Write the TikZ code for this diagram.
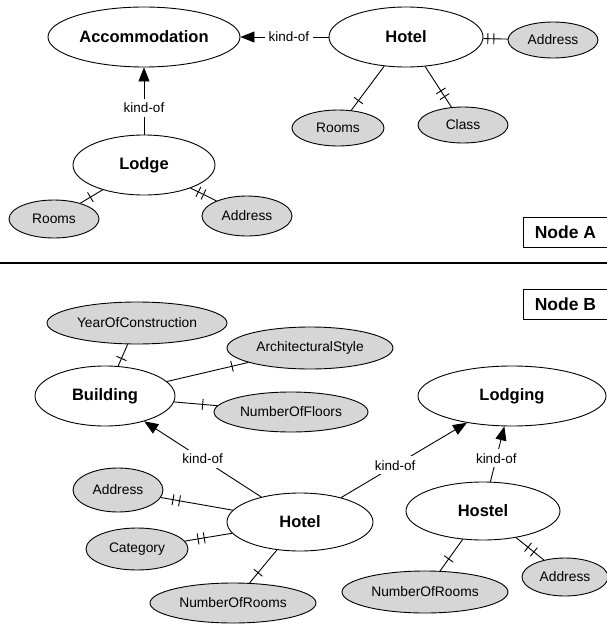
\documentclass[tikz,border=0pt]{standalone}
\usepackage{fontspec}
\setmainfont{Liberation Sans}
\usetikzlibrary{shapes.geometric,arrows.meta,decorations.markings}
\definecolor{attrgray}{RGB}{214,214,214}
\tikzset{
  ent/.style={draw, ellipse, fill=white, inner sep=0pt, line width=0.9pt,
    font=\fontsize{16.5}{18}\selectfont\bfseries},
  attr/.style={draw, ellipse, fill=attrgray, inner sep=0pt, line width=0.9pt,
    font=\fontsize{13.8}{16}\selectfont},
  link/.style={line width=0.9pt},
  kindarrow/.style={line width=0.9pt, -{Triangle[length=14pt,width=11pt]}},
  kindlabel/.style={fill=white, inner sep=4pt, font=\fontsize{13.5}{15}\selectfont},
  tickone/.style={postaction={decorate,decoration={markings,
    mark=at position #1 with {\draw[line width=0.9pt] (0,-5.5) -- (0,5.5);}}}},
  ticktwo/.style 2 args={postaction={decorate,decoration={markings,
    mark=at position #1 with {\draw[line width=0.9pt] (0,-5.5) -- (0,5.5);},
    mark=at position #2 with {\draw[line width=0.9pt] (0,-5.5) -- (0,5.5);}}}},
  tagbox/.style={draw, line width=0.9pt, minimum width=86pt, minimum height=30pt,
    inner sep=0pt, font=\fontsize{17.5}{19}\selectfont\bfseries}
}
\begin{document}
\begin{tikzpicture}[x=1pt,y=-1pt]
\useasboundingbox (0,0) rectangle (607,624);
% ---------- Node A ----------
\node[ent, minimum width=192pt, minimum height=60pt] (accom) at (144,37) {Accommodation};
\node[ent, minimum width=154pt, minimum height=60pt] (hotelA) at (406,37) {Hotel};
\node[attr, minimum width=90pt, minimum height=36pt] (addrA) at (553,40) {Address};
\node[attr, minimum width=92pt, minimum height=36pt] (roomsA) at (338,128) {Rooms};
\node[attr, minimum width=90pt, minimum height=36pt] (classA) at (463,125) {Class};
\node[ent, minimum width=142pt, minimum height=60pt] (lodge) at (144,165) {Lodge};
\node[attr, minimum width=90pt, minimum height=38pt] (roomsL) at (54,219) {Rooms};
\node[attr, minimum width=90pt, minimum height=40pt] (addrL) at (247,216) {Address};

\draw[kindarrow] (hotelA) -- node[kindlabel, pos=0.45] {kind-of} (accom);
\draw[kindarrow] (lodge) -- node[kindlabel, pos=0.4] {kind-of} (accom);
\draw[link, ticktwo={4.5pt}{10.5pt}] (hotelA) -- (addrA);
\draw[link, tickone=0.78] (hotelA) -- (roomsA);
\draw[link, ticktwo={0.6}{0.74}] (hotelA) -- (classA);
\draw[link, tickone=0.55] (lodge) -- (roomsL);
\draw[link, ticktwo={0.3}{0.5}] (lodge) -- (addrL);

\node[tagbox, anchor=north west] (tagA) at (523,217) {\hspace*{-2pt}Node A};

% ---------- separator ----------
\coordinate (sepL) at (0,263);
\coordinate (sepR) at (607,263);
\draw[line width=1.1pt] (sepL) -- (sepR);

% ---------- Node B ----------
\node[tagbox, anchor=north west] (tagB) at (523,289) {\hspace*{-2pt}Node B};

\node[attr, minimum width=180pt, minimum height=42pt] (yoc) at (137,323) {YearOfConstruction};
\node[attr, minimum width=166pt, minimum height=42pt] (arch) at (310,348) {ArchitecturalStyle};
\node[ent, minimum width=140pt, minimum height=60pt] (building) at (105,396) {Building};
\node[attr, minimum width=154pt, minimum height=40pt] (floors) at (291,412) {NumberOfFloors};
\node[ent, minimum width=188pt, minimum height=60pt] (lodging) at (512,396) {Lodging};
\node[attr, minimum width=90pt, minimum height=44pt] (addrH) at (118,490) {Address};
\node[attr, minimum width=102pt, minimum height=42pt] (cat) at (137,549) {Category};
\node[ent, minimum width=146pt, minimum height=58pt] (hotelB) at (300,522) {Hotel};
\node[attr, minimum width=166pt, minimum height=40pt] (roomsH) at (233,603) {NumberOfRooms};
\node[ent, minimum width=154pt, minimum height=58pt] (hostel) at (483,511) {Hostel};
\node[attr, minimum width=166pt, minimum height=42pt] (roomsHo) at (425,592) {NumberOfRooms};
\node[attr, minimum width=86pt, minimum height=38pt] (addrHo) at (565,577) {Address};

\draw[link, tickone=0.35] (building) -- (yoc);
\draw[link, tickone=0.8] (building) -- (arch);
\draw[link, tickone=0.66] (building) -- (floors);
\draw[link, ticktwo={0.74}{0.83}] (hotelB) -- (addrH);
\draw[link, ticktwo={0.59}{0.72}] (hotelB) -- (cat);
\draw[link, tickone=0.69] (hotelB) -- (roomsH);
\draw[link, tickone=0.62] (hostel) -- (roomsHo);
\draw[link, ticktwo={0.43}{0.64}] (hostel) -- (addrHo);

\draw[kindarrow] (hotelB) -- node[kindlabel, pos=0.5] {kind-of} (building);
\draw[kindarrow] (hotelB) -- node[kindlabel, pos=0.43] {kind-of} (lodging);
\draw[kindarrow] (hostel) -- node[kindlabel, pos=0.42] {kind-of} (lodging);
\end{tikzpicture}
\end{document}
